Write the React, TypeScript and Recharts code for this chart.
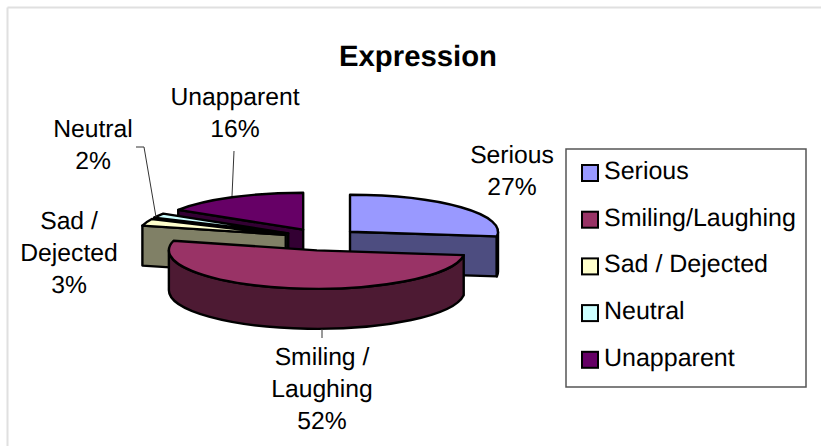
import React from "react";
import { PieChart, Pie, Legend } from "recharts";

// Data, in the order of the legend
const categories = ["Serious", "Smiling/Laughing", "Sad / Dejected", "Neutral", "Unapparent"];
const percentages = [27, 52, 3, 2, 16];
const labelLines = [
  ["Serious", "27%"],
  ["Smiling /", "Laughing", "52%"],
  ["Sad /", "Dejected", "3%"],
  ["Neutral", "2%"],
  ["Unapparent", "16%"],
];
const topColors = ["#9999FF", "#993366", "#FFFFCC", "#CCFFFF", "#660066"];
const sideColors = ["#4D4D80", "#4D1A33", "#808066", "#668080", "#330033"];
const chartTitle = "Expression";

// Back-to-front painting order, which also runs counter-clockwise round the pie
const paintOrder = [0, 4, 3, 2, 1];

// Layout
const W = 821;
const H = 446;
const CX = 321.5;
const CY = 238;
const RADIUS = 148;
const SQUASH = 0.25;
const EXPLODE = 38;
const FONT = "'Liberation Sans', Arial, sans-serif";
const labelAnchors = [
  { x: 512, y: 163 },
  { x: 322, y: 365 },
  { x: 69, y: 229 },
  { x: 93, y: 137 },
  { x: 235, y: 105 },
];
const leaders: number[][][] = [
  [],
  [[322, 329], [322, 338]],
  [],
  [[136, 147], [144, 147], [156, 217]],
  [[234, 151], [232, 196]],
];
// The front slice sits nearer the viewer in the reference's perspective
const nudges = [
  { dx: 0, dy: 0, ry: 37, depth: 40 },
  { dx: 2.5, dy: 3, ry: 38.5, depth: 40 },
  { dx: 0, dy: 0, ry: 37, depth: 40 },
  { dx: 0, dy: 0, ry: 37, depth: 40 },
  { dx: 0, dy: 0, ry: 37, depth: 40 },
];

const table = paintOrder.map((i) => ({
  name: categories[i],
  value: percentages[i],
  fill: topColors[i],
  sideFill: sideColors[i],
  lines: labelLines[i],
  anchor: labelAnchors[i],
  leader: leaders[i],
  nudge: nudges[i],
}));

const rad = (d: number) => (d * Math.PI) / 180;

function Slice3D(props: any) {
  const { cx, cy, outerRadius, startAngle, endAngle, fill } = props;
  const sideFill = props.sideFill ?? props.payload?.sideFill;
  const nudge = props.nudge ?? props.payload?.nudge;
  const s = Math.min(startAngle, endAngle);
  const e = Math.max(startAngle, endAngle);
  const mid = (s + e) / 2;
  const ox = cx + EXPLODE * Math.cos(rad(mid)) + nudge.dx;
  const oy = cy - SQUASH * EXPLODE * Math.sin(rad(mid)) + nudge.dy;
  const rx = outerRadius;
  const ry = nudge.ry;
  const DEPTH = nudge.depth;
  const pt = (a: number) => ({
    x: ox + rx * Math.cos(rad(a)),
    y: oy - ry * Math.sin(rad(a)),
  });
  const a = pt(s);
  const b = pt(e);
  const top = `M${ox},${oy} L${a.x},${a.y} A${rx},${ry} 0 ${e - s > 180 ? 1 : 0} 0 ${b.x},${b.y} Z`;

  const walls: string[] = [];
  const edge = (p: { x: number; y: number }) =>
    `M${ox},${oy} L${p.x},${p.y} L${p.x},${p.y + DEPTH} L${ox},${oy + DEPTH} Z`;
  if (Math.cos(rad(s)) > 0.001) walls.push(edge(a));
  if (Math.cos(rad(e)) < -0.001) walls.push(edge(b));
  for (const off of [-360, 0]) {
    const lo = Math.max(s, 180 + off);
    const hi = Math.min(e, 360 + off);
    if (hi > lo) {
      const p = pt(lo);
      const q = pt(hi);
      walls.push(
        `M${p.x},${p.y} A${rx},${ry} 0 0 0 ${q.x},${q.y} L${q.x},${q.y + DEPTH} A${rx},${ry} 0 0 1 ${p.x},${p.y + DEPTH} Z`
      );
    }
  }
  return (
    <g stroke="#000" strokeWidth={2.4} strokeLinejoin="round">
      {walls.map((d, i) => (
        <path key={i} d={d} fill={sideFill} />
      ))}
      <path d={top} fill={fill} />
    </g>
  );
}

function SliceLabel(props: any) {
  const p = props.payload ?? props;
  const lines: string[] = p.lines ?? props.lines;
  const anchor = p.anchor ?? props.anchor;
  const leader: number[][] = p.leader ?? props.leader;
  return (
    <g>
      {leader.length > 0 && (
        <polyline
          points={leader.map((q) => q.join(",")).join(" ")}
          fill="none"
          stroke="#333"
          strokeWidth={1}
        />
      )}
      <text
        textAnchor="middle"
        fontFamily={FONT}
        fontSize={24.7}
        fill="#000"
        textRendering="geometricPrecision"
      >
        {lines.map((l, i) => (
          <tspan key={i} x={anchor.x} y={anchor.y + i * 32}>
            {l}
          </tspan>
        ))}
      </text>
    </g>
  );
}

function LegendBox() {
  return (
    <svg width={242} height={240} style={{ display: "block" }}>
      <rect x={1} y={1} width={240} height={238} fill="#fff" stroke="#555" strokeWidth={1.5} />
      {categories.map((name, i) => {
        const top = 17 + i * 46.7;
        return (
          <g key={name}>
            <rect x={17} y={top} width={16} height={16} fill={topColors[i]} stroke="#000" strokeWidth={2} />
            <text
              x={39}
              y={top + 14}
              fontFamily={FONT}
              fontSize={25}
              fill="#000"
              textRendering="geometricPrecision"
            >
              {name}
            </text>
          </g>
        );
      })}
    </svg>
  );
}

export default function App() {
  return (
    <div style={{ position: "fixed", left: 0, top: 0, width: W, height: H, background: "#fff" }}>
      <PieChart width={W} height={H} margin={{ top: 0, right: 0, bottom: 0, left: 0 }}>
        <line x1={7.5} y1={7.5} x2={W} y2={7.5} stroke="#e0e0e0" strokeWidth={2} />
        <line x1={7.5} y1={7.5} x2={7.5} y2={H} stroke="#e0e0e0" strokeWidth={2} />
        <text
          x={418}
          y={66}
          textAnchor="middle"
          fontFamily={FONT}
          fontSize={29.3}
          fontWeight="bold"
          fill="#000"
          textRendering="geometricPrecision"
        >
          {chartTitle}
        </text>
        <Pie
          data={table}
          dataKey="value"
          nameKey="name"
          cx={CX}
          cy={CY}
          innerRadius={0}
          outerRadius={RADIUS}
          startAngle={-7.2}
          endAngle={352.8}
          paddingAngle={0}
          shape={Slice3D}
          label={SliceLabel}
          labelLine={false}
          isAnimationActive={false}
        />
        <Legend
          content={LegendBox}
          wrapperStyle={{ position: "absolute", left: 565, top: 148, width: 242, height: 240, bottom: "auto", right: "auto" }}
        />
      </PieChart>
    </div>
  );
}
